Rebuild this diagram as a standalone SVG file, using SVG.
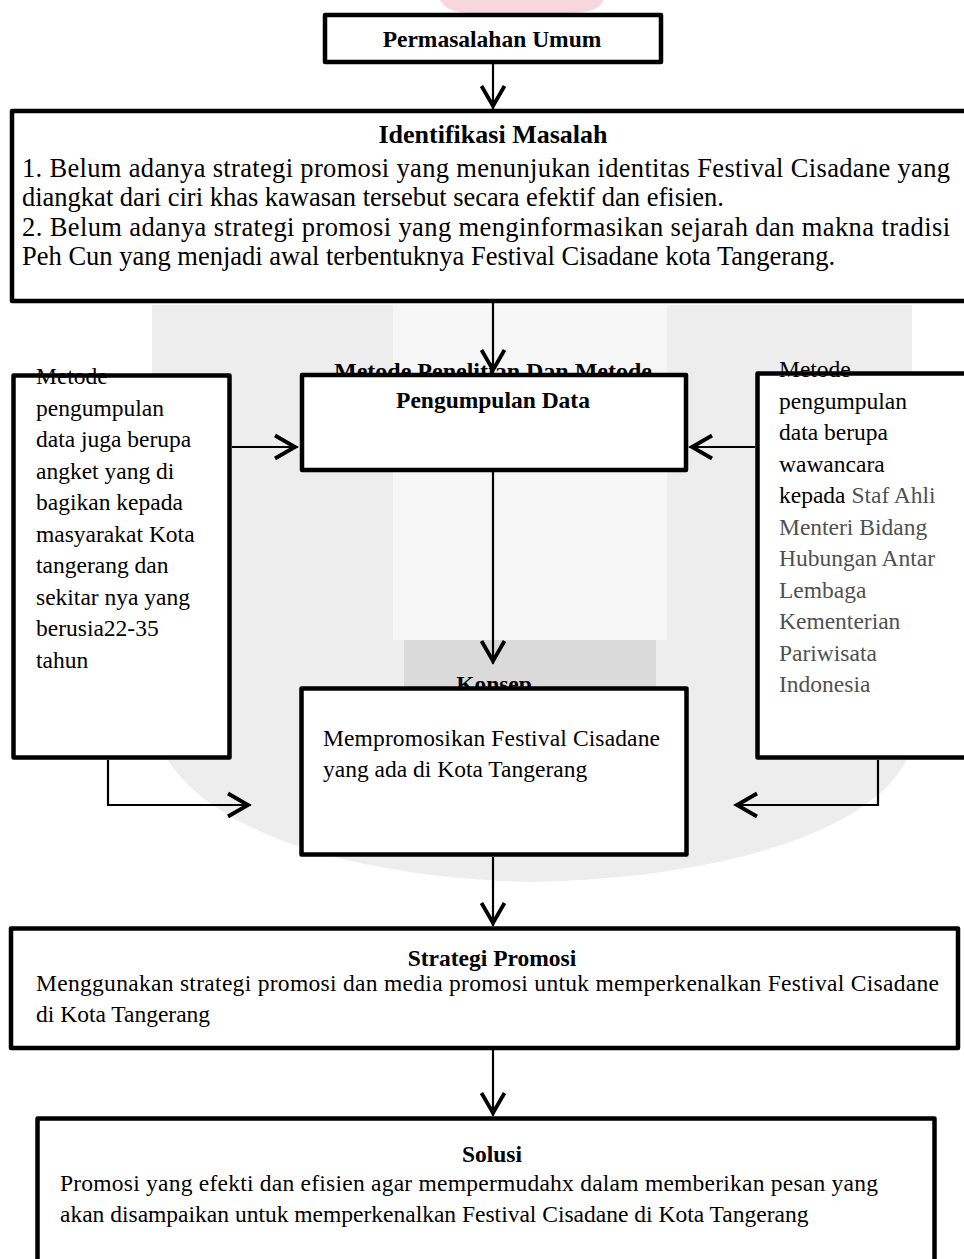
<svg xmlns="http://www.w3.org/2000/svg" width="964" height="1259" viewBox="0 0 964 1259">
<style>
.box{fill:#fff;stroke:#000;stroke-width:4.5;stroke-linejoin:round}
.fill{fill:#fff;stroke:none}
.edge{fill:none;stroke:#000;stroke-width:4.5;stroke-linejoin:round}
.t{font-family:"Liberation Serif","Times New Roman",serif;font-size:23.5px;fill:#000}
.b{font-weight:bold}
.big{font-size:26.5px}
.g{fill:#505050}
.c{fill:none;stroke:#000;stroke-width:2.2}
.mid{text-anchor:middle}
</style>
<defs>
<marker id="v" viewBox="0 0 28 28" markerWidth="28" markerHeight="28" refX="25" refY="14" orient="auto" markerUnits="userSpaceOnUse" overflow="visible">
<polyline points="2,2.5 22,14 2,25.5" fill="none" stroke="#000" stroke-width="3.8" stroke-linejoin="miter"/>
</marker>
</defs>
<rect width="964" height="1259" fill="#fff"/>
<g id="watermark">
<path d="M440,0 H604 C600,8 590,13 572,13 H472 C454,13 444,8 440,0 Z" fill="#f8d6dd"/>
<path d="M152,305 H912 V735 C912,800 790,876 532,882 C290,876 152,800 152,708 Z" fill="#ededed"/>
<rect x="393" y="305" width="274" height="335" fill="#f6f6f6"/>
<rect x="404" y="640" width="252" height="50" fill="#dadada"/>
</g>
<g id="nodes">
<g id="n-permasalahan">
<rect class="box" x="325" y="15" width="336" height="47"/>
<text class="t b mid" x="492" y="47">Permasalahan Umum</text>
</g>
<g id="n-identifikasi">
<rect class="box" x="12" y="111" width="975" height="190"/>
<text class="t b mid" x="493" y="143" style="font-size:26px">Identifikasi Masalah</text>
<text class="t big" x="22" y="177" textLength="928">1. Belum adanya strategi promosi yang menunjukan identitas Festival Cisadane yang</text>
<text class="t big" x="22" y="206">diangkat dari ciri khas kawasan tersebut secara efektif dan efisien.</text>
<text class="t big" x="22" y="236" textLength="928">2. Belum adanya strategi promosi yang menginformasikan sejarah dan makna tradisi</text>
<text class="t big" x="22" y="265">Peh Cun yang menjadi awal terbentuknya Festival Cisadane kota Tangerang.</text>
</g>
<g id="n-metode">
<text class="t b mid" x="493" y="379" style="font-size:24px">Metode Penelitian Dan Metode</text>
<rect class="box" x="302" y="375" width="384" height="95"/>
<text class="t b mid" x="493" y="408">Pengumpulan Data</text>
</g>
<g id="n-kiri">
<rect class="fill" x="13.5" y="375.5" width="216" height="382"/>
<text class="t" x="36" y="384">Metode</text>
<text class="t" x="36" y="415.5">pengumpulan</text>
<text class="t" x="36" y="447">data juga berupa</text>
<text class="t" x="36" y="478.5">angket yang di</text>
<text class="t" x="36" y="510">bagikan kepada</text>
<text class="t" x="36" y="541.5">masyarakat Kota</text>
<text class="t" x="36" y="573">tangerang dan</text>
<text class="t" x="36" y="604.5">sekitar nya yang</text>
<text class="t" x="36" y="636">berusia22-35</text>
<text class="t" x="36" y="667.5">tahun</text>
<rect class="edge" x="13.5" y="375.5" width="216" height="382"/>
</g>
<g id="n-kanan">
<rect class="fill" x="757.5" y="373.5" width="220" height="384"/>
<text class="t" x="779" y="377">Metode</text>
<text class="t" x="779" y="408.5">pengumpulan</text>
<text class="t" x="779" y="440">data berupa</text>
<text class="t" x="779" y="471.5">wawancara</text>
<text class="t" x="779" y="503">kepada <tspan class="g">Staf Ahli</tspan></text>
<text class="t g" x="779" y="534.5">Menteri Bidang</text>
<text class="t g" x="779" y="566">Hubungan Antar</text>
<text class="t g" x="779" y="597.5">Lembaga</text>
<text class="t g" x="779" y="629">Kementerian</text>
<text class="t g" x="779" y="660.5">Pariwisata</text>
<text class="t g" x="779" y="692">Indonesia</text>
<rect class="edge" x="757.5" y="373.5" width="220" height="384"/>
</g>
<g id="n-konsep">
<text class="t b mid" x="494" y="692">Konsep</text>
<rect class="box" x="301.5" y="688.5" width="385" height="166"/>
<text class="t" x="323" y="746" textLength="337">Mempromosikan Festival Cisadane</text>
<text class="t" x="323" y="777">yang ada di Kota Tangerang</text>
</g>
<g id="n-strategi">
<rect class="box" x="11" y="928.5" width="947" height="119.5"/>
<text class="t b mid" x="492" y="966">Strategi Promosi</text>
<text class="t" x="36" y="991" textLength="903">Menggunakan strategi promosi dan media promosi untuk memperkenalkan Festival Cisadane</text>
<text class="t" x="36" y="1022">di Kota Tangerang</text>
</g>
<g id="n-solusi">
<rect class="box" x="37.5" y="1118.5" width="897" height="200"/>
<text class="t b mid" x="492" y="1162">Solusi</text>
<text class="t" x="60" y="1191" textLength="818">Promosi yang efekti dan efisien agar mempermudahx dalam memberikan pesan yang</text>
<text class="t" x="60" y="1222">akan disampaikan untuk memperkenalkan Festival Cisadane di Kota Tangerang</text>
</g>
</g>
<g id="connectors">
<path class="c" d="M493,64 V109" marker-end="url(#v)"/>
<path class="c" d="M493,303 V373" marker-end="url(#v)"/>
<path class="c" d="M232,447 H298" marker-end="url(#v)"/>
<path class="c" d="M755,447 H689" marker-end="url(#v)"/>
<path class="c" d="M493,472 V664" marker-end="url(#v)"/>
<path class="c" d="M108,760 V805 H251" marker-end="url(#v)"/>
<path class="c" d="M878,760 V805 H734" marker-end="url(#v)"/>
<path class="c" d="M493,857 V926" marker-end="url(#v)"/>
<path class="c" d="M493,1050 V1116" marker-end="url(#v)"/>
</g>
</svg>
